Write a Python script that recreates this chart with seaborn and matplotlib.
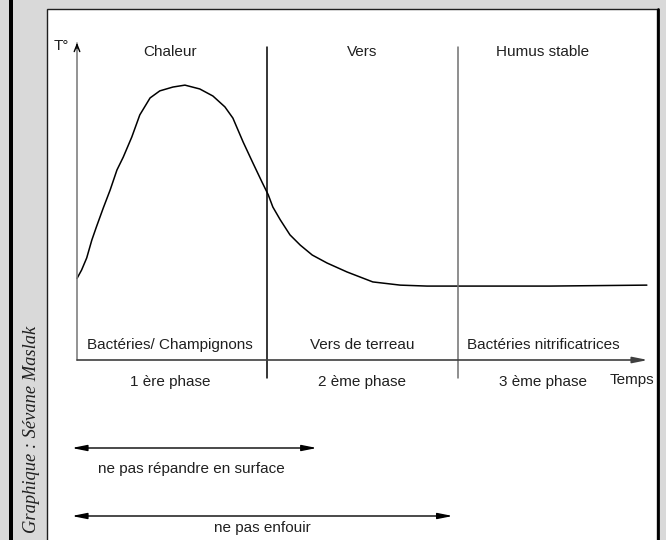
import numpy as np
import pandas as pd
import seaborn as sns
import matplotlib.pyplot as plt
from matplotlib.patches import Rectangle

# temperature curve (time 0..100, temperature 0..100)
temps = [0, 0.8, 1.7, 2.6, 3.4, 4.6, 5.8, 7.0, 8.1, 9.6, 11.0, 12.8, 14.5, 16.8,
         18.9, 21.5, 23.8, 25.9, 27.3, 29.1, 30.8, 32.4, 33.5, 34.3, 35.6, 37.3,
         39.1, 41.2, 43.8, 47.3, 51.8, 56.6, 61.3, 66.5, 82.8, 99.8]
temperature = [25.5, 28.1, 31.9, 37.5, 41.6, 47.5, 53.1, 59.4, 63.4, 69.7, 76.6,
               81.9, 84.1, 85.3, 85.9, 84.7, 82.5, 79.1, 75.6, 68.1, 61.6, 55.6,
               51.6, 47.8, 43.8, 39.1, 35.9, 32.8, 30.3, 27.5, 24.4, 23.4, 23.1,
               23.1, 23.1, 23.4]

phase_limits = [33.3, 66.7]
label_x = [16.3, 50.0, 81.6]
top_labels = ["Chaleur", "Vers", "Humus stable"]
organism_labels = ["Bactéries/ Champignons", "Vers de terreau", "Bactéries nitrificatrices"]
phase_labels = ["1 ère phase", "2 ème phase", "3 ème phase"]

advice_labels = ["ne pas répandre en surface", "ne pas enfouir"]
advice_start = [-0.9, -0.9]
advice_end = [42.0, 65.8]
advice_y = [-27.5, -48.75]
advice_text_x = [20.1, 32.4]
advice_text_y = [-34.0, -52.5]

df = pd.DataFrame({"temps": temps, "temperature": temperature})

sns.set_style('white')
plt.rcParams['font.family'] = ['Liberation Sans Narrow', 'Liberation Sans', 'DejaVu Sans']

fig = plt.figure(figsize=(6.66, 5.4), dpi=100)
fig.patch.set_facecolor('#d9d9d9')

# background decoration in pixel units
bg = fig.add_axes([0, 0, 1, 1], zorder=0)
bg.set_xlim(0, 666)
bg.set_ylim(540, 0)
bg.axis('off')
bg.add_patch(Rectangle((8.5, -5), 4, 560, facecolor='black', edgecolor='none'))
bg.add_patch(Rectangle((47, 9), 610, 560, facecolor='white', edgecolor='#202020', lw=1.0))
bg.plot([657.5, 657.5], [9, 545], color='black', lw=2.0)
bg.text(32, 326, "Graphique : Sévane Maslak", rotation=90, ha='center', va='top',
        fontsize=13.3, style='italic', family=['Liberation Serif', 'DejaVu Serif'], color='#202020')

ax = fig.add_axes([77 / 666, 1 - 360 / 540, 571 / 666, 320 / 540], zorder=1)
ax.patch.set_alpha(0)
ax.set_xlim(0, 100)
ax.set_ylim(0, 100)
ax.axis('off')

sns.lineplot(data=df, x='temps', y='temperature', color='black', lw=1.1, ax=ax, clip_on=False)

# axes with arrows
ax.plot([0, 0], [0, 99], color='#808080', lw=1.2, clip_on=False)
ax.annotate('', xy=(0, 100), xytext=(0, 96.5),
            arrowprops=dict(arrowstyle='->,head_length=0.5,head_width=0.2', color='black', lw=1.0),
            annotation_clip=False)
ax.annotate('', xy=(100, 0), xytext=(0, 0),
            arrowprops=dict(arrowstyle='-|>,head_length=0.9,head_width=0.18', color='#404040', lw=1.2,
                            shrinkA=0, shrinkB=0),
            annotation_clip=False)

for i, x in enumerate(phase_limits):
    ax.plot([x, x], [97.8, -5.6], color='black' if i == 0 else '#707070', lw=1.1, clip_on=False)

fs = 11
ax.text(-1.4, 98.1, "T°", ha='right', va='center', fontsize=fs, color='#202020')
for x, a, b, c in zip(label_x, top_labels, organism_labels, phase_labels):
    ax.text(x, 96.3, a, ha='center', va='center', fontsize=fs, color='#202020')
    ax.text(x, 4.7, b, ha='center', va='center', fontsize=fs, color='#202020')
    ax.text(x, -6.9, c, ha='center', va='center', fontsize=fs, color='#202020')
ax.text(93.3, -6.3, "Temps", ha='left', va='center', fontsize=fs, color='#202020')

for lab, x0, x1, y, tx, ty in zip(advice_labels, advice_start, advice_end, advice_y,
                                  advice_text_x, advice_text_y):
    ax.annotate('', xy=(x1, y), xytext=(x0, y),
                arrowprops=dict(arrowstyle='<|-|>,head_length=0.9,head_width=0.18', color='black', lw=1.0,
                                shrinkA=0, shrinkB=0),
                annotation_clip=False)
    ax.text(tx, ty, lab, ha='center', va='center', fontsize=fs, color='#202020')

fig.savefig('out.png', dpi=100, facecolor=fig.get_facecolor())
